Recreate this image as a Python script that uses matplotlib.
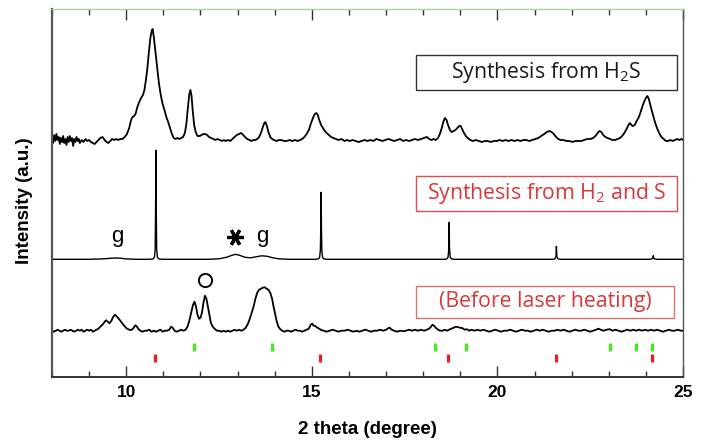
import numpy as np
import matplotlib
matplotlib.use("Agg")
import matplotlib.pyplot as plt
from matplotlib.patches import Rectangle

# ---- diffraction scans: (2 theta in degrees, intensity in a.u. above each scan's baseline) ----
h2s_scan = [
    (8.00, 2), (8.03, -3), (8.06, 5), (8.09, -1), (8.12, 6), (8.15, 0), (8.18, 3), (8.21, -4),
    (8.24, 2), (8.27, -2), (8.30, 4), (8.33, -3), (8.36, 1), (8.39, -5), (8.42, 3), (8.45, -2),
    (8.48, 4), (8.51, -1), (8.54, 2), (8.57, -6), (8.60, 1), (8.63, -2), (8.66, 3), (8.69, -1),
    (8.72, 1), (8.75, -3), (8.80, 0), (8.85, -2), (8.90, 1), (8.95, -1), (9.00, 0), (9.05, -2),
    (9.10, -3), (9.15, -4), (9.20, -2), (9.25, 0), (9.30, 2), (9.36, 3), (9.42, 0), (9.47, -2),
    (9.52, -3), (9.57, -1), (9.62, 1), (9.68, 0), (9.73, 1), (9.78, 0), (9.84, 1), (9.90, 1),
    (9.96, 3), (10.02, 6), (10.08, 12), (10.13, 20), (10.17, 23), (10.21, 24), (10.25, 26),
    (10.30, 33), (10.35, 38), (10.40, 42), (10.45, 45), (10.49, 50), (10.53, 60), (10.57, 72),
    (10.61, 88), (10.65, 102), (10.68, 108), (10.71, 111), (10.74, 104), (10.77, 94), (10.80, 84),
    (10.84, 70), (10.88, 57), (10.93, 45), (10.98, 36), (11.03, 30), (11.08, 23), (11.13, 18),
    (11.18, 12), (11.23, 6), (11.28, 2), (11.33, 1), (11.38, 2), (11.43, 1), (11.48, 2),
    (11.53, 3), (11.58, 7), (11.62, 16), (11.66, 32), (11.70, 46), (11.73, 50), (11.76, 44),
    (11.79, 30), (11.83, 15), (11.87, 8), (11.92, 4), (11.98, 4), (12.03, 5), (12.08, 6),
    (12.13, 6), (12.18, 5), (12.23, 3), (12.29, 2), (12.35, 1), (12.40, 0), (12.46, 1),
    (12.52, 0), (12.58, -1), (12.63, 0), (12.68, -1), (12.74, 0), (12.80, -1), (12.86, 1),
    (12.92, 3), (12.98, 5), (13.04, 6), (13.10, 7), (13.15, 5), (13.20, 3), (13.26, 1),
    (13.32, 0), (13.37, -1), (13.43, 0), (13.48, 0), (13.53, 1), (13.58, 3), (13.63, 7),
    (13.68, 13), (13.72, 17), (13.75, 18), (13.79, 14), (13.83, 8), (13.88, 3), (13.93, 1),
    (13.98, 0), (14.05, -1), (14.12, 0), (14.18, 0), (14.25, -1), (14.32, -1), (14.40, 0),
    (14.47, -1), (14.55, 0), (14.62, -1), (14.68, 0), (14.74, 1), (14.80, 3), (14.86, 6),
    (14.92, 10), (14.98, 17), (15.03, 22), (15.08, 26), (15.12, 27), (15.16, 25), (15.20, 20),
    (15.25, 15), (15.30, 12), (15.35, 9), (15.40, 7), (15.46, 5), (15.52, 3), (15.58, 2),
    (15.65, 1), (15.72, 0), (15.80, 1), (15.88, -1), (15.95, 0), (16.02, -1), (16.10, 0),
    (16.18, -1), (16.26, -2), (16.34, -1), (16.42, 0), (16.50, -1), (16.58, 0), (16.66, -1),
    (16.74, 1), (16.82, 0), (16.90, -1), (16.98, 0), (17.06, 1), (17.14, 0), (17.22, -1),
    (17.30, 0), (17.38, 1), (17.46, -1), (17.54, 0), (17.62, -1), (17.70, 0), (17.78, 1),
    (17.86, 0), (17.94, 1), (18.02, 2), (18.10, 3), (18.16, 1), (18.22, 0), (18.28, 1),
    (18.34, 0), (18.40, 2), (18.45, 6), (18.50, 12), (18.55, 19), (18.59, 22), (18.63, 20),
    (18.67, 15), (18.72, 10), (18.77, 8), (18.82, 9), (18.87, 10), (18.92, 12), (18.97, 14),
    (19.01, 14), (19.05, 11), (19.10, 7), (19.15, 4), (19.20, 2), (19.27, 0), (19.34, -1),
    (19.42, 0), (19.50, -1), (19.58, -2), (19.66, -1), (19.74, -1), (19.82, -2), (19.90, -1),
    (19.98, -1), (20.06, 0), (20.14, -1), (20.22, 0), (20.30, -1), (20.38, 0), (20.46, -1),
    (20.54, 0), (20.62, -1), (20.70, 0), (20.78, 0), (20.86, -1), (20.94, 0), (21.02, 1),
    (21.10, 2), (21.18, 4), (21.26, 6), (21.33, 8), (21.40, 9), (21.46, 8), (21.52, 6),
    (21.58, 3), (21.64, 1), (21.70, 0), (21.78, 0), (21.86, -1), (21.94, -1), (22.02, -2),
    (22.10, -1), (22.18, -1), (22.26, -1), (22.34, 0), (22.42, 1), (22.50, 1), (22.58, 2),
    (22.64, 4), (22.70, 7), (22.75, 9), (22.80, 8), (22.85, 5), (22.91, 3), (22.97, 2),
    (23.03, 1), (23.10, 0), (23.17, 0), (23.24, 1), (23.30, 2), (23.36, 4), (23.42, 7),
    (23.48, 11), (23.53, 15), (23.57, 17), (23.61, 15), (23.65, 14), (23.70, 15), (23.75, 19),
    (23.80, 22), (23.85, 27), (23.90, 33), (23.95, 38), (24.00, 42), (24.04, 44), (24.08, 41),
    (24.12, 35), (24.17, 28), (24.22, 21), (24.27, 15), (24.32, 10), (24.37, 6), (24.42, 3),
    (24.48, 1), (24.54, -1), (24.60, -1), (24.66, 0), (24.72, -1), (24.78, 0), (24.84, 1),
    (24.90, 0), (24.96, 1), (25.00, 0),
]

h2_s_scan = [
    (8.00, 0), (9.00, 0), (9.30, 0.3), (9.50, 0.8), (9.70, 1.3), (9.85, 1.1), (10.00, 0.4),
    (10.30, 0), (10.60, 0), (10.72, 0.3), (10.76, 2), (10.78, 10), (10.79, 45), (10.80, 109),
    (10.81, 45), (10.82, 10), (10.84, 2), (10.88, 0.3), (11.00, 0), (12.20, 0), (12.50, 0.5),
    (12.70, 2), (12.85, 4), (12.95, 5), (13.05, 4), (13.20, 2), (13.35, 1.5), (13.50, 2.5),
    (13.65, 3.5), (13.80, 3), (13.95, 1.5), (14.10, 0.5), (14.40, 0), (15.10, 0), (15.18, 0.5),
    (15.21, 2), (15.23, 9), (15.24, 30), (15.25, 67), (15.26, 30), (15.27, 9), (15.29, 2),
    (15.32, 0.5), (15.40, 0), (18.58, 0), (18.64, 0.5), (18.67, 2), (18.69, 10), (18.70, 37),
    (18.71, 10), (18.73, 2), (18.76, 0.5), (18.82, 0), (21.50, 0), (21.55, 0.5), (21.58, 3),
    (21.59, 13), (21.60, 3), (21.63, 0.5), (21.70, 0), (24.10, 0), (24.17, 0.5), (24.19, 1.5),
    (24.20, 3.6), (24.21, 1.5), (24.23, 0.5), (24.30, 0), (25.00, 0),
]

before_heating_scan = [
    (8.00, 0), (8.05, -1), (8.10, 0), (8.15, 1), (8.20, 0), (8.25, -1), (8.30, 0), (8.35, 1),
    (8.40, 0), (8.45, 0), (8.50, 1), (8.55, 0), (8.60, -1), (8.65, 0), (8.70, 1), (8.75, 0),
    (8.80, 1), (8.85, -1), (8.90, 0), (8.95, 1), (9.00, 0), (9.05, 1), (9.10, -1), (9.15, 0),
    (9.20, 1), (9.25, 2), (9.30, 4), (9.36, 6), (9.42, 9), (9.46, 10.5), (9.50, 9), (9.55, 7.5),
    (9.60, 10), (9.65, 14), (9.70, 16), (9.75, 14), (9.80, 12), (9.86, 9), (9.92, 6), (9.97, 4),
    (10.02, 2), (10.08, 1), (10.13, 0.5), (10.18, 2), (10.22, 4), (10.25, 5.5), (10.29, 4),
    (10.33, 1.5), (10.38, 0), (10.44, -1), (10.50, 0), (10.56, 0), (10.62, 1), (10.68, -1),
    (10.74, 0), (10.80, -1), (10.86, 0), (10.92, 1), (10.98, -1), (11.04, 0), (11.10, 0),
    (11.16, 1), (11.21, 4), (11.25, 3), (11.30, 0), (11.36, -1), (11.42, 0), (11.48, 1),
    (11.54, 0), (11.60, 1), (11.65, 4), (11.70, 10), (11.75, 18), (11.80, 26), (11.84, 29),
    (11.88, 24), (11.92, 16), (11.96, 12), (12.00, 13), (12.04, 18), (12.08, 28), (12.12, 35),
    (12.16, 32), (12.20, 24), (12.24, 16), (12.28, 8), (12.33, 4), (12.38, 2), (12.44, 0),
    (12.50, 0), (12.56, -1), (12.62, 0), (12.68, -1), (12.74, 0), (12.80, -1), (12.86, 0),
    (12.92, 1), (12.98, 0), (13.04, 1), (13.10, 0), (13.16, 1), (13.22, 3), (13.28, 7),
    (13.33, 12), (13.38, 18), (13.43, 24), (13.48, 32), (13.53, 38), (13.58, 41), (13.63, 42),
    (13.68, 43), (13.73, 43.5), (13.78, 42), (13.83, 41), (13.88, 38), (13.93, 32), (13.97, 24),
    (14.01, 17), (14.05, 10), (14.10, 4), (14.15, 1.5), (14.20, 0), (14.26, -1), (14.32, 0),
    (14.38, 0), (14.44, -1), (14.50, 0), (14.56, 1), (14.62, 0), (14.68, 0), (14.74, -1),
    (14.80, 0), (14.86, 1), (14.92, 2), (14.97, 6), (15.01, 7), (15.05, 5), (15.10, 4.5),
    (15.15, 3), (15.20, 2), (15.26, 0.5), (15.32, 0), (15.40, -1), (15.48, 0), (15.56, 1),
    (15.64, 0), (15.72, -1), (15.80, 0), (15.88, 0), (15.96, 1), (16.04, 0), (16.12, -1),
    (16.20, 0), (16.28, -1), (16.36, 0), (16.44, 1), (16.52, 0), (16.60, -1), (16.68, 0),
    (16.76, 0), (16.84, 1), (16.92, 0), (17.00, 1), (17.06, 2.5), (17.10, 3), (17.15, 1),
    (17.22, 0), (17.30, -1), (17.38, 0), (17.46, -0.5), (17.54, 0), (17.62, 1), (17.70, 0),
    (17.78, 1), (17.86, 0), (17.94, 1), (18.02, 0), (18.10, 1), (18.16, 2), (18.21, 4),
    (18.25, 6), (18.29, 5), (18.34, 3), (18.40, 1), (18.46, 0), (18.52, 0), (18.58, 1),
    (18.64, 0), (18.70, 1), (18.76, 2), (18.82, 3), (18.88, 4), (18.94, 3.5), (19.00, 3),
    (19.06, 2.5), (19.12, 1), (19.18, 1.5), (19.24, 0), (19.30, 1), (19.38, 0), (19.46, 1),
    (19.54, 0), (19.62, 1), (19.70, 0), (19.78, -1), (19.86, 0), (19.94, 1), (20.02, 0),
    (20.10, -1), (20.18, 0), (20.26, 0), (20.34, 1), (20.42, 0), (20.50, -1), (20.58, 0),
    (20.66, 1), (20.74, 0), (20.82, 0), (20.90, -1), (20.98, 0), (21.06, 1), (21.14, 0),
    (21.22, 1), (21.30, 0), (21.38, -1), (21.46, 0), (21.54, 0), (21.62, 1), (21.70, 0),
    (21.78, 1), (21.86, 0), (21.94, -1), (22.02, 0), (22.10, 1), (22.18, 0), (22.26, 0),
    (22.34, 1), (22.42, 0), (22.50, -1), (22.58, 0), (22.66, 1), (22.72, 2), (22.78, 1),
    (22.86, 0), (22.94, 1), (23.02, 1.5), (23.10, 0), (23.18, 1), (23.26, 0), (23.34, -1),
    (23.42, 0), (23.50, 1), (23.58, 0), (23.66, 1), (23.74, 0), (23.82, 1), (23.90, 0),
    (23.98, 1), (24.06, 0), (24.14, 1), (24.22, 0), (24.30, 1), (24.38, 0), (24.46, -1),
    (24.54, 0), (24.62, 1), (24.70, 0), (24.78, 0), (24.86, 1), (24.94, 0), (25.00, 0),
]

# vertical offsets that stack the three scans
scan_offsets = {"h2s": 236.7, "h2_s": 117.4, "before": 46.0}

# calculated reflection positions (2 theta, degree)
green_reflections = [11.83, 13.92, 18.33, 19.16, 23.03, 23.74, 24.17]
red_reflections = [10.78, 15.23, 18.66, 21.57, 24.16]

x_ticks = [10, 15, 20, 25]

# ---- figure ----
plt.rcParams["mathtext.fontset"] = "custom"
plt.rcParams["mathtext.rm"] = "Open Sans"
plt.rcParams["mathtext.it"] = "Open Sans:italic"

fig = plt.figure(figsize=(7.10, 4.42), dpi=100)
ax = fig.add_axes([52 / 710, 1 - 376.7 / 442, 631 / 710, 368.2 / 442])
ax.set_xlim(8, 25)
ax.set_ylim(0, 368.2)

for scan, key, lw in [(h2s_scan, "h2s", 1.3), (h2_s_scan, "h2_s", 1.0),
                      (before_heating_scan, "before", 1.3)]:
    arr = np.array(scan, dtype=float)
    ax.plot(arr[:, 0], arr[:, 1] + scan_offsets[key], color="black", lw=lw,
            solid_joinstyle="round")

ax.vlines(green_reflections, 25.7, 33.7, colors="#3cef1c", lw=2.3)
ax.vlines(red_reflections, 14.7, 23.2, colors="#ec1c24", lw=2.3)

# peak markers
ax.text(9.75, 140.5, "g", ha="center", va="center", fontsize=16, family="Liberation Sans")
ax.text(13.67, 140.5, "g", ha="center", va="center", fontsize=16, family="Liberation Sans")
ax.plot([12.92], [139.5], marker=(6, 2, 90), markersize=12, mew=2.3, color="black")
ax.plot([12.12], [96.7], marker="o", markersize=9.5, mfc="none", mec="black", mew=1.4)

# sample labels in boxes
boxes = [
    (17.80, 286.7, 24.83, 321.7, "Synthesis from H$_2$S", "#1a1a1a", "#333333"),
    (17.80, 165.7, 24.83, 201.0, "Synthesis from H$_2$ and S", "#d9383a", "#d85050"),
    (17.80, 58.7, 24.77, 90.7, "(Before laser heating)", "#d9383a", "#e07070"),
]
for x0, y0, x1, y1, label, tcol, ecol in boxes:
    ax.add_patch(Rectangle((x0, y0), x1 - x0, y1 - y0, fill=False, ec=ecol, lw=1.0))
    ax.text((x0 + x1) / 2, (y0 + y1) / 2, label, ha="center", va="center",
            color=tcol, fontsize=15.3, family="Open Sans")

# axes styling
ax.set_xticks(x_ticks)
ax.set_xticklabels([str(t) for t in x_ticks], family="Liberation Sans", fontsize=12.5,
                   fontweight="bold")
ax.set_xticks(np.arange(8, 26, 1), minor=True)
ax.set_yticks([])
ax.tick_params(axis="x", which="both", direction="in", top=True, bottom=True, color="#333333")
ax.tick_params(axis="x", which="major", length=8, width=1.0, pad=6)
ax.tick_params(axis="x", which="minor", length=4.5, width=1.0)
ax.spines["left"].set_linewidth(1.6)
ax.spines["left"].set_color("#555555")
ax.spines["bottom"].set_linewidth(1.4)
ax.spines["bottom"].set_color("#333333")
ax.spines["right"].set_linewidth(1.0)
ax.spines["right"].set_color("#555555")
ax.spines["top"].set_linewidth(1.0)
ax.spines["top"].set_color("#a8d4a8")

ax.set_xlabel("2 theta (degree)", family="Liberation Sans", fontweight="bold", fontsize=13.5)
ax.xaxis.set_label_coords((367 - 52) / 631, (376.7 - 421) / 368.2)
ax.set_ylabel("Intensity (a.u.)", family="Liberation Sans", fontweight="bold", fontsize=13.5)
ax.yaxis.set_label_coords((33 - 52) / 631, (376.7 - 201) / 368.2)

fig.savefig("out.png", dpi=100, facecolor="white")
